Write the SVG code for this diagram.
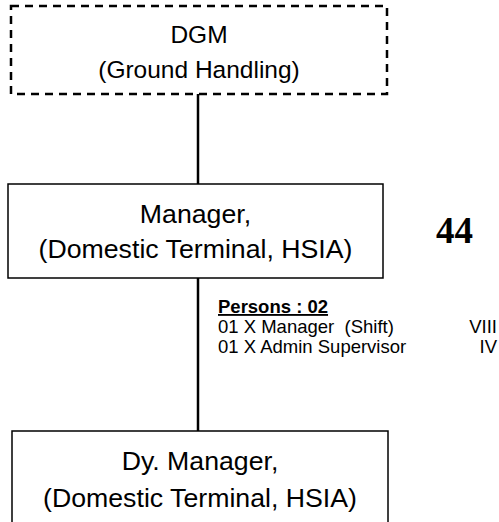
<svg xmlns="http://www.w3.org/2000/svg" width="499" height="522" viewBox="0 0 499 522">
<style>
.box{fill:#fff;stroke:#000;stroke-width:1.5}
.dash{fill:#fff;stroke:#000;stroke-width:2.5;stroke-dasharray:8,6}
.t{font-family:"Liberation Sans",Arial,sans-serif;fill:#000;text-anchor:middle}
.s{font-family:"Liberation Sans",Arial,sans-serif;fill:#000;font-size:18.5px}
.r{text-anchor:end}
.conn{stroke:#000;stroke-width:2.5;fill:none}
</style>
<rect width="499" height="522" fill="#fff"/>
<g id="connectors">
<line class="conn" x1="198" y1="94" x2="198" y2="184"/>
<line class="conn" x1="198" y1="278" x2="198" y2="431"/>
</g>
<g id="dgm">
<rect class="dash" x="11" y="6" width="376" height="88"/>
<text class="t" x="199" y="43" font-size="24.5">DGM</text>
<text class="t" x="199" y="78" font-size="24.5">(Ground Handling)</text>
</g>
<g id="manager">
<rect class="box" x="8" y="184" width="375" height="94"/>
<text class="t" x="195.5" y="223" font-size="26.7">Manager,</text>
<text class="t" x="195.5" y="258" font-size="26.7">(Domestic Terminal, HSIA)</text>
</g>
<g id="count">
<text x="436" y="243" font-family="'Liberation Serif','Times New Roman',serif" font-weight="bold" font-size="37">44</text>
</g>
<g id="persons">
<text class="s" x="218" y="313" font-weight="bold" text-decoration="underline">Persons : 02</text>
<text class="s" x="218" y="333" xml:space="preserve">01 X Manager  (Shift)</text>
<text class="s r" x="497" y="333">VIII</text>
<text class="s" x="218" y="353">01 X Admin Supervisor</text>
<text class="s r" x="497" y="353">IV</text>
</g>
<g id="dymanager">
<rect class="box" x="12" y="431" width="376" height="100"/>
<text class="t" x="200" y="470" font-size="26.7">Dy. Manager,</text>
<text class="t" x="200" y="507" font-size="26.7">(Domestic Terminal, HSIA)</text>
</g>
</svg>
